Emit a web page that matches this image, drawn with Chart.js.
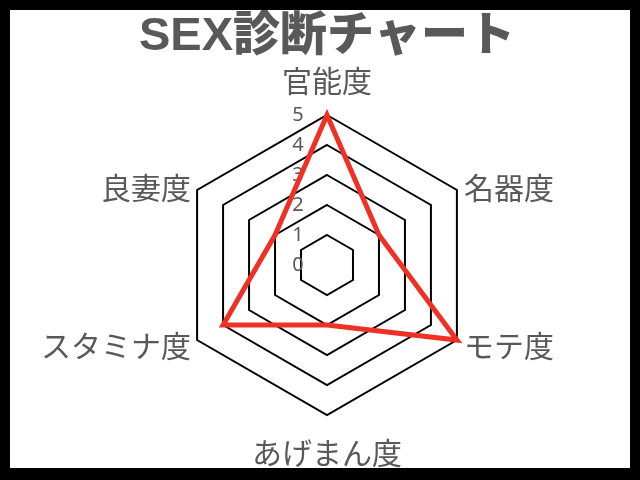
<!DOCTYPE html>
<html>
<head>
<meta charset="utf-8">
<script src="https://cdn.jsdelivr.net/npm/chart.js@4.4.1/dist/chart.umd.min.js"></script>
<style>
  html, body { margin: 0; padding: 0; background: #000; }
  #frame { position: absolute; left: 10px; top: 10px; width: 620px; height: 458px; background: #fff; }
</style>
</head>
<body>
<div id="frame"><canvas id="sexChart"></canvas></div>
<script>
const categories = ['官能度', '名器度', 'モテ度', 'あげまん度', 'スタミナ度', '良妻度'];
const scores = [5, 2, 5, 2, 4, 2];
const tickValues = [0, 1, 2, 3, 4, 5];
const tickLabels = ['0', '1', '2', '3', '4', '5'];

const textColor = '#595959';

// draws the tick numbers beside the vertical axis and the category names
const axisText = {
    id: 'axisText',
    beforeDatasetsDraw(chart) {
        const s = chart.scales.r;
        const ctx = chart.ctx;
        ctx.save();
        ctx.fillStyle = textColor;
        ctx.textBaseline = 'middle';

        ctx.textAlign = 'center';
        ctx.font = '20px "Noto Sans"';
        s.ticks.forEach((t, i) => {
            ctx.fillText(tickLabels[i], s.xCenter - 29, s.yCenter - s.getDistanceFromCenterForValue(t.value));
        });

        ctx.font = '30px "Noto Sans CJK JP"';
        categories.forEach((c, i) => {
            const p = s.getPointPosition(i, s.drawingArea);
            const dx = p.x - s.xCenter;
            let x = p.x, y = p.y;
            if (Math.abs(dx) < 1) {
                ctx.textAlign = 'center';
                y += p.y < s.yCenter ? -34 : 38;
            } else {
                ctx.textAlign = dx > 0 ? 'left' : 'right';
                x += dx > 0 ? 7 : -6;
                y += p.y < s.yCenter ? -2 : 6;
            }
            ctx.fillText(c, x, y);
        });
        ctx.restore();
    }
};

new Chart('sexChart', {
    type: 'radar',
    data: {
        labels: categories,
        datasets: [{
            data: scores,
            borderColor: '#ee3124',
            borderWidth: 5,
            borderJoinStyle: 'miter',
            fill: false,
            pointRadius: 0,
            pointHoverRadius: 0
        }]
    },
    options: {
        responsive: true,
        maintainAspectRatio: false,
        animation: false,
        layout: { padding: { left: 14, right: 0, top: 0, bottom: 53 } },
        plugins: {
            legend: { display: false },
            tooltip: { enabled: false },
            title: {
                display: true,
                text: 'SEX診断チャート',
                color: textColor,
                font: { family: '"Liberation Sans", "Noto Sans CJK JP"', size: 47, weight: 900, lineHeight: 1 },
                padding: { top: 4, bottom: 54 }
            }
        },
        scales: {
            r: {
                min: 0,
                max: 5,
                afterBuildTicks: scale => {
                    scale.ticks = tickValues.map(v => ({ value: v }));
                },
                ticks: { display: false },
                grid: { color: '#000', lineWidth: 2 },
                angleLines: { display: false },
                pointLabels: { display: false }
            }
        }
    },
    plugins: [axisText]
});
</script>
</body>
</html>
